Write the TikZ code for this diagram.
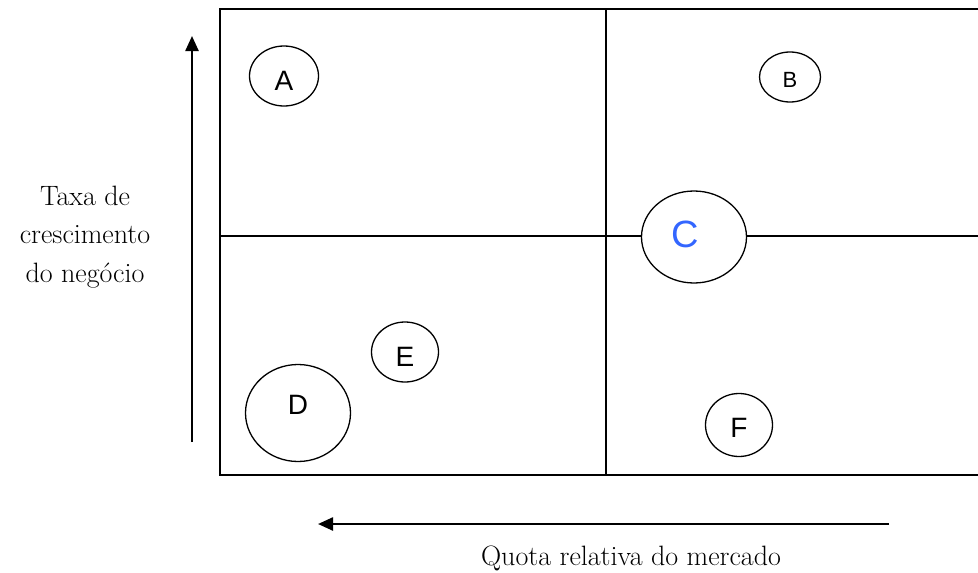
\documentclass[tikz,border=0pt]{standalone}
\usepackage{fontspec}
\newfontfamily\lblfont{Liberation Sans}
\usetikzlibrary{shapes.geometric,arrows.meta}
\definecolor{cblue}{HTML}{3366FF}
\begin{document}
\begin{tikzpicture}[x=1pt,y=-1pt,
  frame/.style={line width=1.8pt},
  bubble/.style={draw,ellipse,fill=white,line width=1.3pt,inner sep=0pt},
  letter/.style={anchor=base,inner sep=0pt,font=\lblfont\fontsize{28}{30}\selectfont},
  axislbl/.style={align=center,inner sep=0pt,font=\fontsize{28}{38.5}\selectfont},
  axisarrow/.style={line width=2.4pt,-{Triangle[length=15pt,width=13pt]}}]
\useasboundingbox (0,0) rectangle (978,573);
% frame
\coordinate (tl) at (220,9);
\coordinate (tr) at (980,9);
\coordinate (bl) at (220,475);
\coordinate (br) at (980,475);
\coordinate (tm) at (606,9);
\coordinate (bm) at (606,475);
\coordinate (ml) at (220,236);
\coordinate (mr) at (980,236);
\draw[frame] (tr) -- (tl) -- (bl) -- (br);
\draw[frame] (tm) -- (bm);
\draw[frame] (ml) -- (mr);
% bubbles
\node[bubble,minimum width=69pt,minimum height=60pt] (A) at (284,76) {};
\node[bubble,minimum width=61pt,minimum height=50pt] (B) at (790,77) {};
\node[bubble,minimum width=105pt,minimum height=92pt] (C) at (694,237) {};
\node[bubble,minimum width=105pt,minimum height=97pt] (D) at (298,413) {};
\node[bubble,minimum width=67pt,minimum height=60pt] (E) at (405,352) {};
\node[bubble,minimum width=67pt,minimum height=63pt] (F) at (739,425) {};
% letters
\node[letter] (At) at (284,90) {A};
\node[letter,font=\lblfont\fontsize{22}{24}\selectfont] (Bt) at (790,87) {B};
\node[letter,font=\lblfont\fontsize{38}{40}\selectfont,text=cblue] (Ct) at (685,247) {C};
\node[letter] (Dt) at (298,414) {D};
\node[letter] (Et) at (405,366) {E};
\node[letter] (Ft) at (739,437) {F};
% axes
\coordinate (v0) at (192,442);
\coordinate (v1) at (192,36);
\draw[axisarrow] (v0) -- (v1);
\coordinate (h0) at (889,524);
\coordinate (h1) at (318,524);
\draw[axisarrow] (h0) -- (h1);
\node[axislbl] (ylbl) at (85,237) {Taxa de\\crescimento\\do negócio};
\node[axislbl,anchor=base] (xlbl) at (631,565) {Quota relativa do mercado};
\end{tikzpicture}
\end{document}
